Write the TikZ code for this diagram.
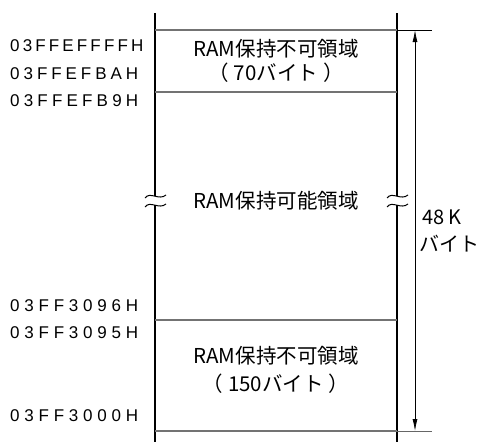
\documentclass[tikz,border=0pt]{standalone}
\usepackage{fontspec}
\setmainfont{Liberation Sans}
\newfontfamily\jpfont{Noto Sans CJK JP}
\usetikzlibrary{arrows.meta, positioning}

% address labels are spread over a fixed width
\newcommand{\spread}[1]{\makebox[128pt][s]{#1}}
% bracketed size note
\newcommand{\bytes}[1]{（\hspace{5pt}#1バイト\hspace{5pt}）}

\begin{document}
\begin{tikzpicture}[x=1pt, y=-1pt,
    addr/.style={anchor=west, inner sep=0pt, font=\fontsize{17}{17}\selectfont},
    area/.style={align=center, inner sep=0pt, font=\jpfont\fontsize{20.5}{24}\selectfont},
    wall/.style={line width=2.8pt},
    sep/.style={draw=black!55, line width=1.4pt},
    wave/.style={line width=1pt}]
  \useasboundingbox (0,0) rectangle (484,442);
  % corners of the memory column
  \coordinate (tl) at (155,13);
  \coordinate (tr) at (397,13);
  \coordinate (bl) at (155,442);
  \coordinate (br) at (397,442);
  % walls with breaks
  \draw[wall] (tl) -- (155,196);
  \draw[wall] (155,205) -- (bl);
  \draw[wall] (tr) -- (397,196);
  \draw[wall] (397,205) -- (br);
  \foreach \x in {155,397} {
    \foreach \y in {196,205} {
      \draw[wave] (\x-10,\y+2) .. controls (\x-5,\y-5) and (\x+4,\y+5) .. (\x+11,\y-1);
    }
  }
  % area borders
  \foreach \y/\n in {30/a, 92/b, 320/c, 431/d} {
    \coordinate (\n l) at (155,\y);
    \coordinate (\n r) at (397,\y);
    \draw[sep] (\n l) -- (\n r);
  }
  % dimension
  \coordinate (ta) at (432,30);
  \coordinate (da) at (432,431);
  \draw[line width=0.8pt] (ar) -- (ta);
  \draw[line width=0.8pt, draw=black!60] (dr) -- (da);
  \coordinate (tp) at (415,30);
  \coordinate (bp) at (415,431);
  \draw[line width=0.8pt, {Latex[length=12pt,width=5pt]}-{Latex[length=12pt,width=5pt]}] (tp) -- (bp);
  \node[area, anchor=west, align=left, font=\jpfont\fontsize{20}{27.5}\selectfont] (size) at (419,231) {\hspace{3pt}48 K\\バイト};
  % areas
  \node[area] (top) at (276,61) {RAM保持不可領域\\\bytes{70}};
  \node[area] (mid) at (276,201) {RAM保持可能領域};
  \node[area] (low) at (276,370) {RAM保持不可領域\\[4pt]\bytes{150}};
  % addresses
  \node[addr] (a1) at (10,46) {\spread{0 3 F F E F F F F H}};
  \node[addr] (a2) at (10,74) {\spread{0 3 F F E F B A H}};
  \node[addr] (a3) at (10,101) {\spread{0 3 F F E F B 9 H}};
  \node[addr] (a4) at (10,306) {\spread{0 3 F F 3 0 9 6 H}};
  \node[addr] (a5) at (10,332.5) {\spread{0 3 F F 3 0 9 5 H}};
  \node[addr] (a6) at (10,416) {\spread{0 3 F F 3 0 0 0 H}};
\end{tikzpicture}
\end{document}
